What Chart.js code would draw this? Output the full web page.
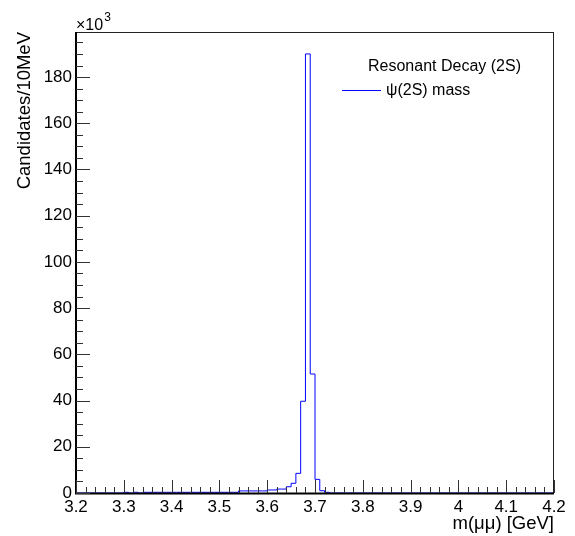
<!DOCTYPE html>
<html>
<head>
<meta charset="utf-8">
<script src="https://cdn.jsdelivr.net/npm/chart.js@4.4.1/dist/chart.umd.min.js"></script>
<style>
  html, body { margin: 0; padding: 0; background: #fff; }
  canvas { display: block; }
</style>
</head>
<body>
<canvas id="massChart" width="575" height="536"></canvas>
<script>
/* psi(2S) mass histogram, ROOT style */

const xMin = 3.2;
const xMax = 4.2;
const binWidth = 0.01;

// candidates per 10 MeV bin, in units of 10^3 (bins 3.20 .. 4.19)
const counts = [
  0, 0, 0, 0, 0, 0, 0, 0, 0, 0,                           // 3.20-3.29
  0.3, 0, 0.3, 0, 0.3, 0.3, 0.3, 0.3, 0.3, 0.3,           // 3.30-3.39
  0.3, 0.3, 0.3, 0.3, 0.3, 0.3, 0.3, 0.3, 0.3, 0.3,       // 3.40-3.49
  0.3, 0.3, 0.3, 0.3, 0.9, 0.9, 0.9, 0.9, 0.9, 0.9,       // 3.50-3.59
  1.3, 1.3, 1.7, 1.7, 2.7, 4.2, 8.5, 39.7, 190, 51.5,     // 3.60-3.69
  5.9, 1.0, 0.3, 0, 0, 0, 0, 0, 0, 0,                     // 3.70-3.79
  0, 0, 0, 0, 0, 0, 0, 0, 0, 0,                           // 3.80-3.89
  0, 0, 0, 0, 0, 0, 0, 0, 0, 0,                           // 3.90-3.99
  0, 0, 0, 0, 0, 0, 0, 0, 0, 0,                           // 4.00-4.09
  0, 0, 0, 0, 0, 0, 0, 0, 0, 0,                           // 4.10-4.19
];

const xTickValues = [3.2, 3.3, 3.4, 3.5, 3.6, 3.7, 3.8, 3.9, 4.0, 4.1, 4.2];
const xTickLabels = ['3.2', '3.3', '3.4', '3.5', '3.6', '3.7', '3.8', '3.9', '4', '4.1', '4.2'];
const yTickValues = [0, 20, 40, 60, 80, 100, 120, 140, 160, 180];
const yTickLabels = ['0', '20', '40', '60', '80', '100', '120', '140', '160', '180'];
const yMax = 199.5;
const xMinorStep = 0.02;
const yMinorStep = 5;

const seriesLabel = 'ψ(2S) mass';
const legendTitle = 'Resonant Decay (2S)';

const FONT = '"Liberation Sans", Arial, Helvetica, sans-serif';

// one point per bin low edge, closed at the upper edge of the last bin
const points = counts.map((v, i) => ({ x: +(xMin + i * binWidth).toFixed(2), y: v }));
points.push({ x: xMax, y: counts[counts.length - 1] });

const rootFrame = {
  id: 'rootFrame',
  afterDraw(chart) {
    const { ctx, chartArea: a } = chart;
    const xs = chart.scales.x;
    const ys = chart.scales.y;
    ctx.save();

    // frame and axes
    ctx.strokeStyle = '#222';
    ctx.lineWidth = 1;
    ctx.strokeRect(a.left + 0.5, a.top + 0.5, a.right - a.left - 1, a.bottom - a.top);
    ctx.fillStyle = '#000';
    ctx.fillRect(a.left - 1, a.top, 2, a.bottom - a.top + 1);
    ctx.fillRect(a.left - 1, a.bottom - 0.5, a.right - a.left + 1, 2);

    // inward ticks
    ctx.fillStyle = '#333';
    const nx = Math.round((xMax - xMin) / xMinorStep);
    for (let k = 0; k <= nx; k++) {
      const px = Math.round(xs.getPixelForValue(xMin + k * xMinorStep));
      ctx.fillRect(px, a.bottom - 6, 1, 6);
    }
    xTickValues.forEach(v => {
      const px = Math.round(xs.getPixelForValue(v));
      ctx.fillRect(px, a.bottom - 13, 1, 13);
    });
    const ny = Math.floor(yMax / yMinorStep);
    for (let k = 0; k <= ny; k++) {
      const py = Math.round(ys.getPixelForValue(k * yMinorStep));
      ctx.fillRect(a.left, py, 7, 1);
    }
    yTickValues.forEach(v => {
      const py = Math.round(ys.getPixelForValue(v));
      ctx.fillRect(a.left, py, 14, 1);
    });

    // exponent label
    ctx.fillStyle = '#000';
    ctx.textBaseline = 'alphabetic';
    ctx.textAlign = 'left';
    ctx.font = '16px ' + FONT;
    ctx.fillText('×10', a.left, 30);
    const w = ctx.measureText('×10').width;
    ctx.font = '12px ' + FONT;
    ctx.fillText('3', a.left + w + 1, 21);

    // legend
    const ds = chart.data.datasets[0];
    ctx.font = '16px ' + FONT;
    ctx.fillText(legendTitle, 368, 71);
    ctx.fillStyle = ds.borderColor;
    ctx.fillRect(342, 90, 39, 1);
    ctx.fillStyle = '#000';
    ctx.fillText(ds.label, 386, 95);

    ctx.restore();
  },
};

new Chart(document.getElementById('massChart'), {
  type: 'line',
  data: {
    datasets: [{
      label: seriesLabel,
      data: points,
      stepped: 'before',
      borderColor: '#0000ff',
      borderWidth: 1,
      pointRadius: 0,
      fill: false,
    }],
  },
  options: {
    responsive: false,
    animation: false,
    layout: { padding: { top: 32, right: 21, left: 0, bottom: 0 } },
    plugins: {
      legend: { display: false },
      tooltip: { enabled: false },
    },
    scales: {
      x: {
        type: 'linear',
        min: xMin,
        max: xMax,
        afterBuildTicks: s => { s.ticks = xTickValues.map(v => ({ value: v })); },
        afterFit: s => { s.height = 43; },
        grid: { display: false, drawTicks: false },
        border: { display: false },
        ticks: {
          padding: 4,
          color: '#000',
          font: { family: FONT, size: 17 },
          maxRotation: 0,
          autoSkip: false,
          callback: (v, i) => xTickLabels[i],
        },
        title: {
          display: true,
          text: 'm(μμ) [GeV]',
          align: 'end',
          color: '#000',
          font: { family: FONT, size: 18.5 },
          padding: { top: 0, bottom: 1 },
        },
      },
      y: {
        min: 0,
        max: yMax,
        afterBuildTicks: s => { s.ticks = yTickValues.map(v => ({ value: v })); },
        afterFit: s => { s.width = 76; },
        grid: { display: false, drawTicks: false },
        border: { display: false },
        ticks: {
          padding: 4,
          color: '#000',
          font: { family: FONT, size: 17 },
          autoSkip: false,
          callback: (v, i) => yTickLabels[i],
        },
        title: {
          display: true,
          text: 'Candidates/10MeV',
          align: 'end',
          color: '#000',
          font: { family: FONT, size: 18.5 },
          padding: { top: 14, bottom: 0 },
        },
      },
    },
  },
  plugins: [rootFrame],
});
</script>
</body>
</html>
